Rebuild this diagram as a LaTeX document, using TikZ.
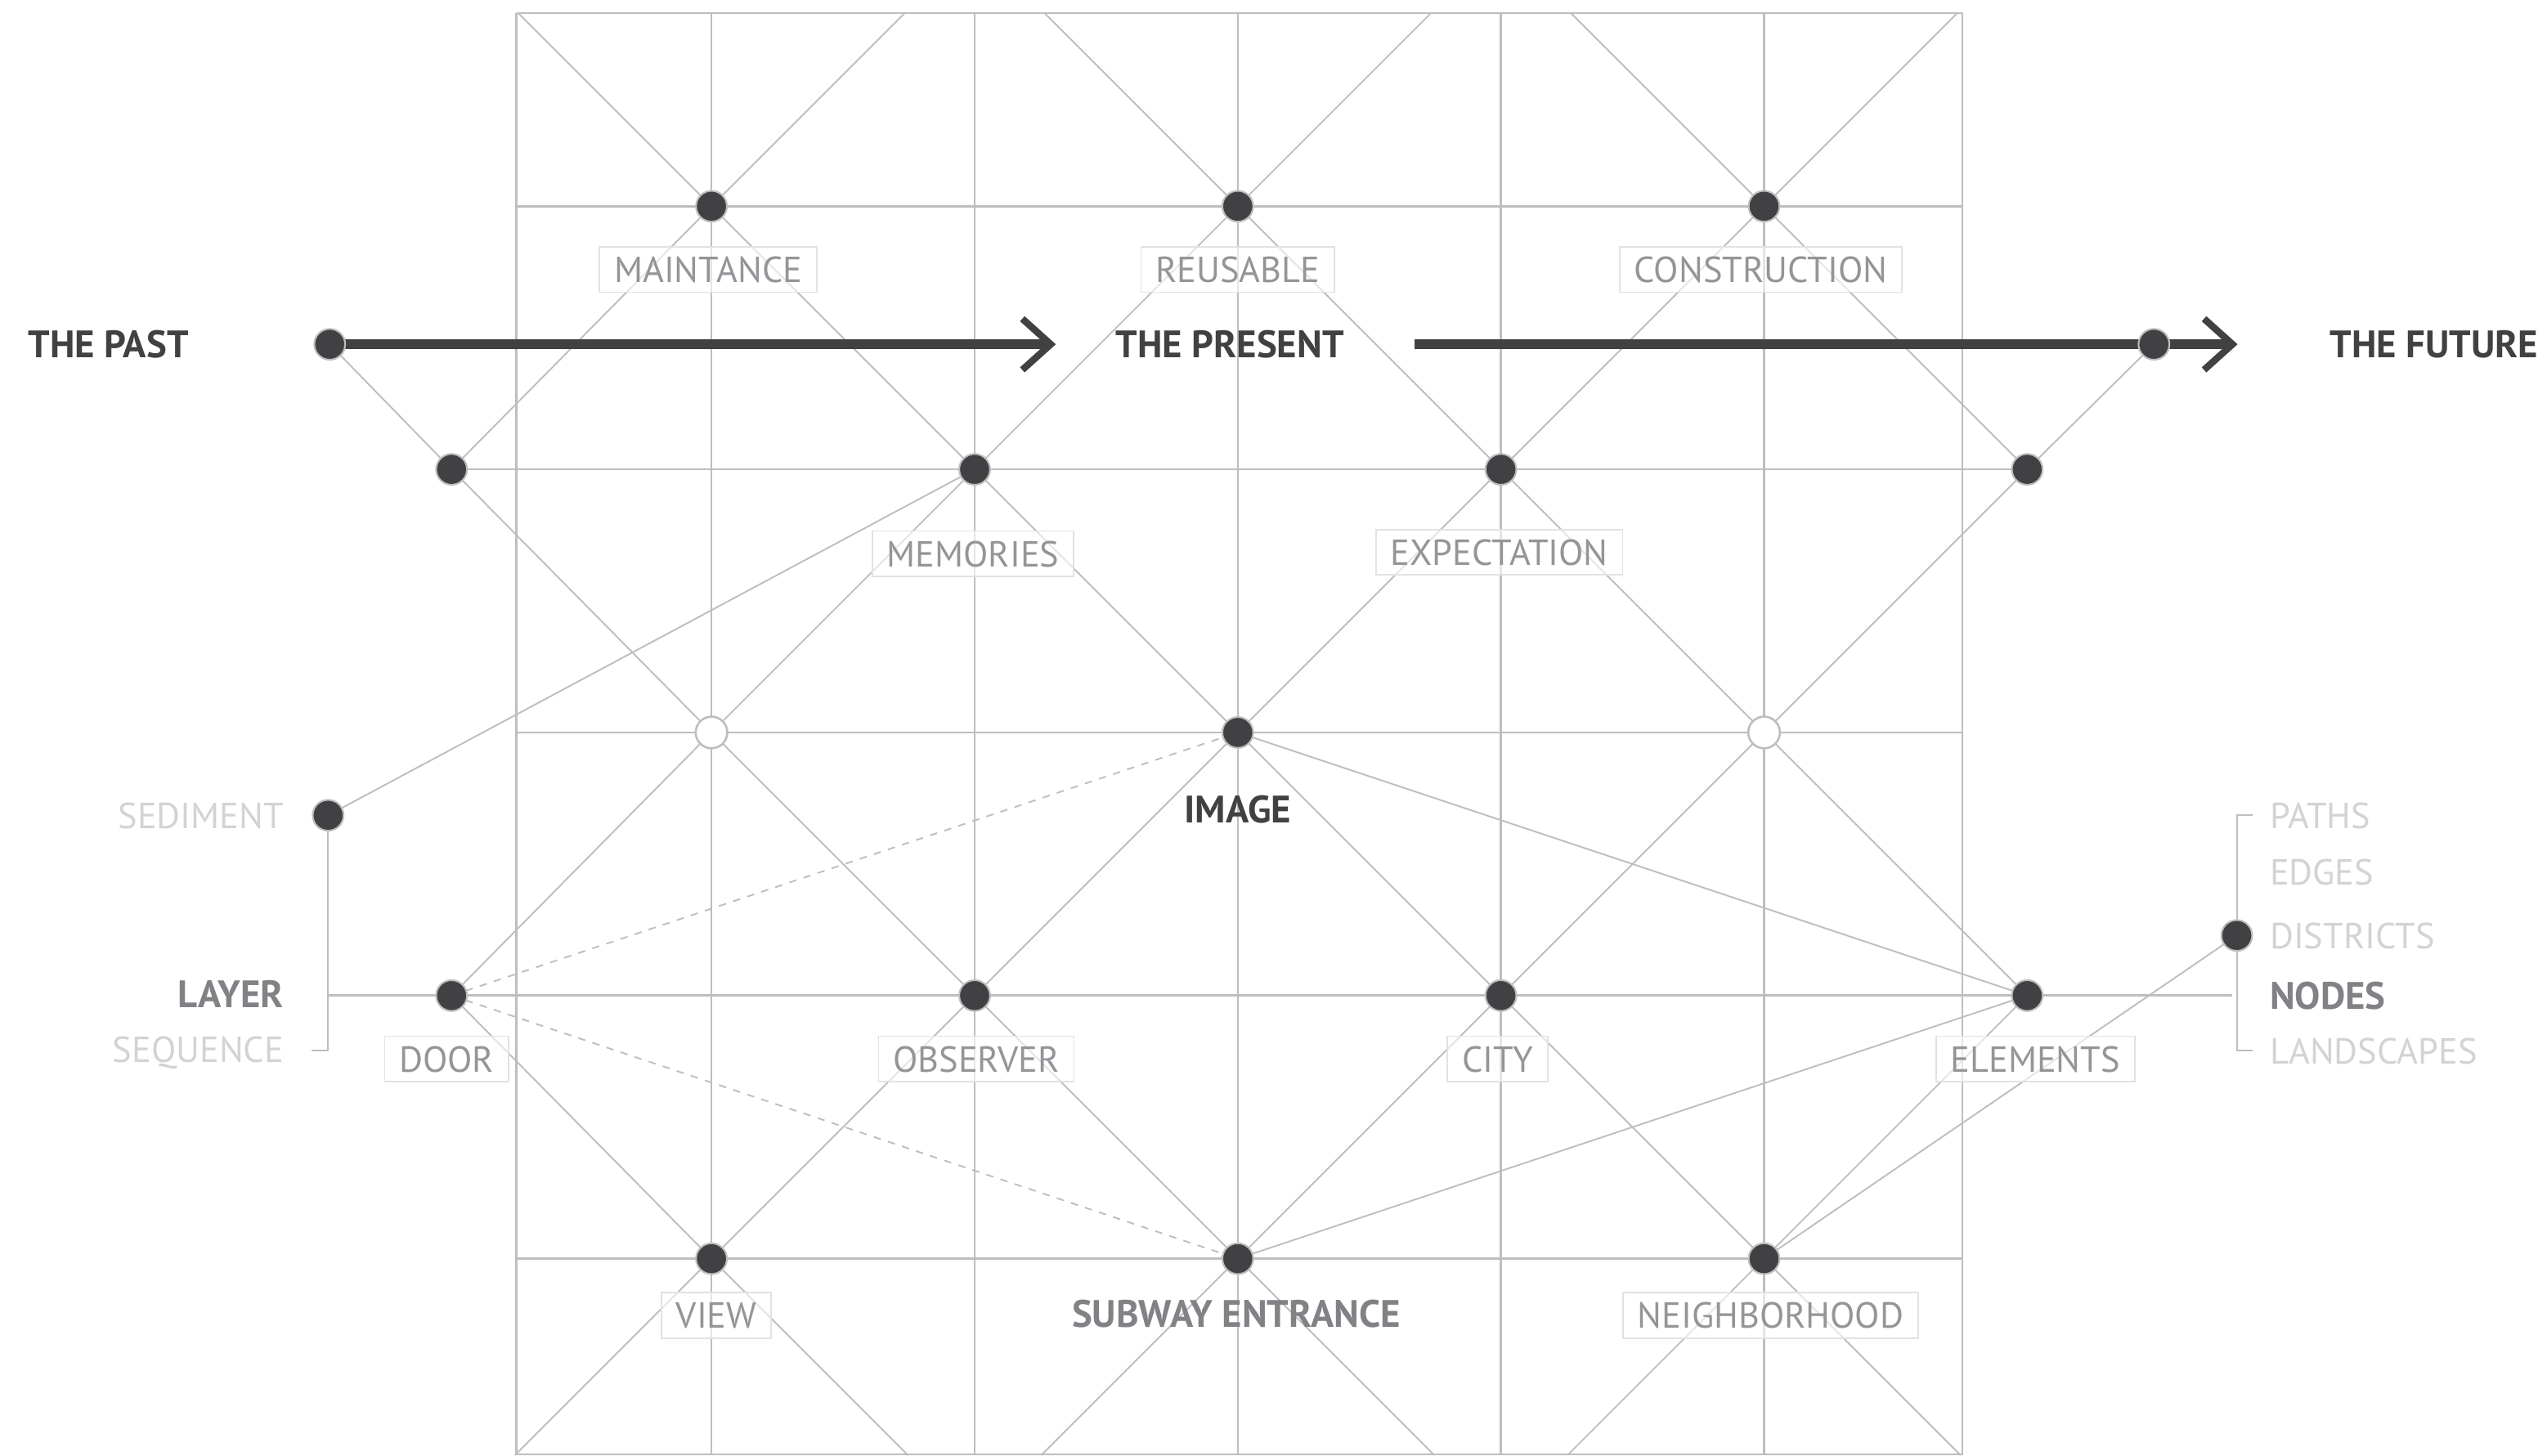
\documentclass[tikz,border=0pt]{standalone}
\usepackage{fontspec}
\setmainfont{PT Sans}
\usetikzlibrary{arrows.meta}

\definecolor{ink}{HTML}{414042}
\definecolor{rule}{HTML}{BCBEC0}
\definecolor{boxline}{HTML}{E1E2E3}
\definecolor{labeltxt}{HTML}{939598}
\definecolor{midtxt}{HTML}{808285}
\definecolor{faint}{HTML}{D1D3D4}

\pgfdeclarelayer{lines}
\pgfsetlayers{lines,main}

\begin{document}
\begin{tikzpicture}[x=0.02cm,y=-0.02cm,
  gridline/.style={draw=rule,line width=0.75pt},
  diag/.style={draw=rule,line width=0.55pt},
  dashlink/.style={draw=rule,line width=0.55pt,dash pattern=on 2.6pt off 2.6pt},
  dot/.style={circle,fill=ink,draw=rule,line width=0.6pt,minimum size=0.38cm,inner sep=0pt},
  hollow/.style={circle,fill=white,draw=rule,line width=0.75pt,minimum size=0.39cm,inner sep=0pt},
  txt/.style={font=\fontsize{12.7}{15}\selectfont,inner sep=0pt,text depth=0pt},
  boldtxt/.style={font=\bfseries\fontsize{13.4}{16}\selectfont,inner sep=0pt,text depth=0pt},
  tag/.style={txt,draw=boxline,line width=0.5pt,fill=white,fill opacity=0.6,
    text opacity=1,draw opacity=1,text=labeltxt,minimum height=0.56cm,inner xsep=0.18cm},
  era/.style={boldtxt,text=ink},
  keyword/.style={boldtxt,text=midtxt},
  aside/.style={txt,text=faint},
  timeline/.style={draw=ink,line width=3.5pt,
    -{Straight Barb[length=3.5mm,width=6.3mm,line width=2.4pt]}},
]
\useasboundingbox (0,0) rectangle (1568,896.5);

% ---------- dots ----------
\node[dot] (past)   at (203,212) {};
\node[dot] (future) at (1326,212) {};
\node[dot] (lpast)  at (278,289) {};
\node[dot] (lfut)   at (1248,289) {};
\node[dot] (maint)  at (438,127) {};
\node[dot] (reuse)  at (762,127) {};
\node[dot] (constr) at (1086,127) {};
\node[dot] (memo)   at (600,289) {};
\node[dot] (expect) at (924,289) {};
\node[hollow] (hl)  at (438,451) {};
\node[dot] (image)  at (762,451) {};
\node[hollow] (hr)  at (1086,451) {};
\node[dot] (door)   at (278,613) {};
\node[dot] (obs)    at (600,613) {};
\node[dot] (city)   at (924,613) {};
\node[dot] (elem)   at (1248,613) {};
\node[dot] (view)   at (438,775) {};
\node[dot] (subway) at (762,775) {};
\node[dot] (neigh)  at (1086,775) {};
\node[dot] (sed)    at (202,502) {};
\node[dot] (dist)   at (1377,576) {};

\coordinate (presentstart) at (871,212);
\coordinate (pastend) at (650,212);
\coordinate (futureend) at (1377.5,212);

\begin{pgfonlayer}{lines}
  % square grid and frame
  \foreach \gx in {318,438,600,762,924,1086,1208}
    \draw[gridline] (\gx,8) -- (\gx,896);
  \foreach \gy in {8,127,451,775,895.5}
    \draw[gridline] (318,\gy) -- (1208,\gy);
  \draw[gridline] (lpast.center) -- (lfut.center);
  \draw[gridline] (202,613) -- (1374,613);

  % diagonals running down to the right
  \draw[diag] (319,8) -- (maint.center) -- (memo.center) -- (image.center)
     -- (city.center) -- (neigh.center) -- (1207,896);
  \draw[diag] (past.center) -- (lpast.center) -- (hl.center) -- (obs.center)
     -- (subway.center) -- (883,896);
  \draw[diag] (643,8) -- (reuse.center) -- (expect.center) -- (hr.center) -- (elem.center);
  \draw[diag] (967,8) -- (constr.center) -- (lfut.center);
  \draw[diag] (door.center) -- (view.center) -- (559,896);

  % diagonals running down to the left
  \draw[diag] (557,8) -- (maint.center) -- (lpast.center);
  \draw[diag] (881,8) -- (reuse.center) -- (memo.center) -- (hl.center) -- (door.center);
  \draw[diag] (1205,8) -- (constr.center) -- (expect.center) -- (image.center)
     -- (obs.center) -- (view.center) -- (317,896);
  \draw[diag] (future.center) -- (lfut.center) -- (hr.center) -- (city.center)
     -- (subway.center) -- (641,896);
  \draw[diag] (elem.center) -- (neigh.center) -- (965,896);

  % free links
  \draw[diag] (sed.center) -- (memo.center);
  \draw[diag] (image.center) -- (elem.center);
  \draw[diag] (subway.center) -- (elem.center);
  \draw[diag] (neigh.center) -- (dist.center);
  \draw[dashlink] (door.center) -- (image.center);
  \draw[dashlink] (door.center) -- (subway.center);

  % brackets
  \draw[diag] (sed.center) -- (202,647) -- (192,647);
  \draw[diag] (1387,502) -- (1377,502) -- (1377,647) -- (1387,647);

  % time line
  \draw[timeline] (past.center) -- (pastend);
  \draw[timeline] (presentstart) -- (futureend);
\end{pgfonlayer}

% ---------- labels ----------
\node[tag] (lmaint)  at (436,166) {MAINTANCE};
\node[tag] (lreuse)  at (762,166) {REUSABLE};
\node[tag] (lconstr) at (1084,166) {CONSTRUCTION};
\node[tag] (lmemo)   at (599,341) {MEMORIES};
\node[tag] (lexpect) at (923,340) {EXPECTATION};
\node[tag] (ldoor)   at (275,652) {DOOR};
\node[tag] (lobs)    at (601,652) {OBSERVER};
\node[tag] (lcity)   at (922,652) {CITY};
\node[tag] (lelem)   at (1253,652) {ELEMENTS};
\node[tag] (lview)   at (441,810) {VIEW};
\node[tag] (lneigh)  at (1090,810) {NEIGHBORHOOD};
\node[keyword] (lsubway) at (761,809) {SUBWAY ENTRANCE};
\node[era] (limage) at (762,498) {IMAGE};

\node[era,anchor=west] (tpast)    at (17,212)    {THE PAST};
\node[era,anchor=west] (tpresent) at (686.5,212) {THE PRESENT};
\node[era,anchor=west] (tfuture)  at (1434,212)  {THE FUTURE};

\node[aside,anchor=east]   (tsed)   at (175,502) {SEDIMENT};
\node[keyword,anchor=east] (tlayer) at (175,612) {LAYER};
\node[aside,anchor=east]   (tseq)   at (175,646) {SEQUENCE};

\node[aside,anchor=west]   (tpaths) at (1397,502) {PATHS};
\node[aside,anchor=west]   (tedges) at (1397,537) {EDGES};
\node[aside,anchor=west]   (tdist)  at (1397,576) {DISTRICTS};
\node[keyword,anchor=west] (tnodes) at (1397,613) {NODES};
\node[aside,anchor=west]   (tland)  at (1397,647) {LANDSCAPES};
\end{tikzpicture}
\end{document}
